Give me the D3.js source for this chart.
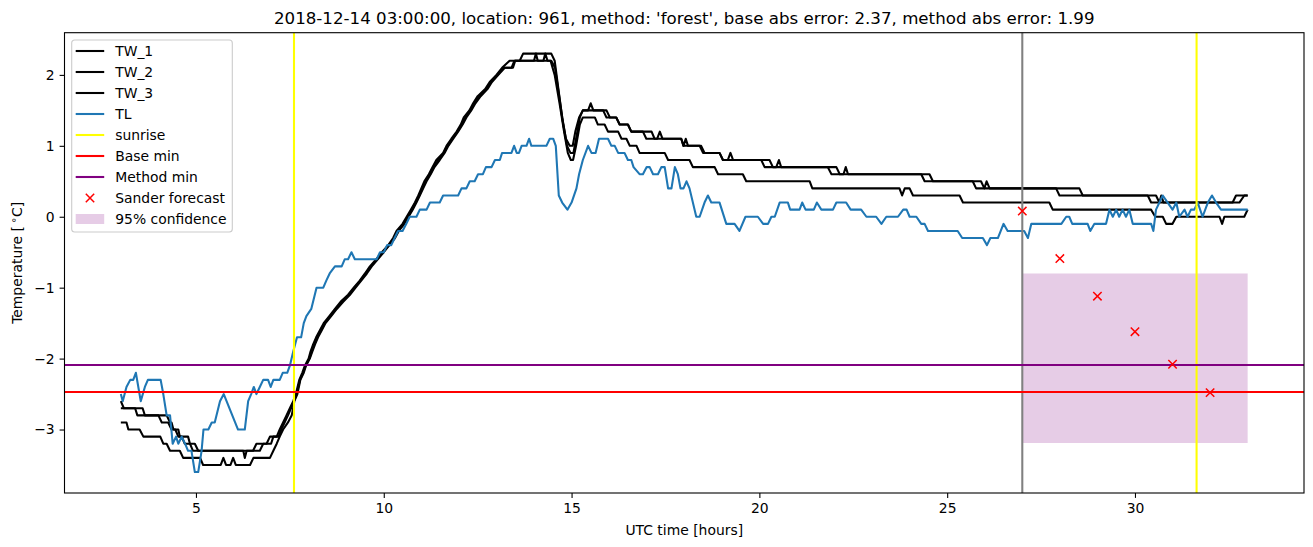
<!DOCTYPE html>
<html>
<head>
<meta charset="utf-8">
<script src="https://cdn.jsdelivr.net/npm/d3@7"></script>
<style>
  body { margin: 0; background: #fff; }
  svg { display: block; }
  text { font-family: "DejaVu Sans", sans-serif; }
</style>
</head>
<body>
<div class="chart"></div>
<script>
const FRAME_WIDTH = 1313;
const FRAME_HEIGHT = 547;
const MARGINS = {left: 64.5, right: 9, top: 32.7, bottom: 54};

const TITLE = "2018-12-14 03:00:00, location: 961, method: 'forest', base abs error: 2.37, method abs error: 1.99";

// [hour, temperature]
const TW_1 = [[3.0,-2.6],[3.08,-2.7],[3.38,-2.7],[3.44,-2.8],[4.0,-2.8],[4.09,-2.9],[4.26,-2.9],[4.35,-3.0],[4.45,-3.0],[4.53,-3.1],[4.62,-3.1],[4.7,-3.2],[4.84,-3.2],[4.92,-3.3],[6.26,-3.3],[6.3,-3.4],[6.35,-3.3],[6.52,-3.3],[6.61,-3.2],[6.88,-3.2],[6.97,-3.1],[7.15,-3.1],[7.23,-3.0],[7.32,-2.9],[7.41,-2.8],[7.5,-2.7],[7.59,-2.6],[7.66,-2.5],[7.75,-2.3],[7.83,-2.2],[7.9,-2.1],[8.0,-2.0],[8.05,-1.9],[8.12,-1.8],[8.2,-1.7],[8.3,-1.6],[8.4,-1.5],[8.55,-1.4],[8.7,-1.3],[8.85,-1.2],[9.05,-1.1],[9.2,-1.0],[9.36,-0.9],[9.5,-0.8],[9.63,-0.7],[9.8,-0.6],[9.95,-0.5],[10.12,-0.4],[10.25,-0.3],[10.34,-0.2],[10.5,-0.1],[10.61,0.0],[10.72,0.1],[10.83,0.2],[10.92,0.3],[11.0,0.4],[11.08,0.5],[11.2,0.6],[11.3,0.7],[11.4,0.8],[11.58,0.9],[11.67,1.0],[11.8,1.1],[11.94,1.2],[12.05,1.3],[12.13,1.4],[12.28,1.5],[12.38,1.6],[12.5,1.7],[12.7,1.8],[12.82,1.9],[13.0,2.0],[13.15,2.1],[13.35,2.2],[13.62,2.2],[13.71,2.3],[14.46,2.3],[14.55,2.2],[14.65,1.8],[14.75,1.4],[14.85,1.1],[14.95,1.0],[15.03,1.0],[15.1,1.2],[15.2,1.4],[15.3,1.5],[15.44,1.5],[15.51,1.6],[15.58,1.5],[15.84,1.5],[15.93,1.4],[16.19,1.4],[16.28,1.3],[16.5,1.3],[16.59,1.2],[16.9,1.2],[16.99,1.1],[17.28,1.1],[17.35,1.2],[17.42,1.1],[17.92,1.1],[17.98,1.0],[18.04,1.1],[18.1,1.0],[18.41,1.0],[18.5,0.9],[18.94,0.9],[19.03,0.8],[19.16,0.8],[19.23,0.9],[19.3,0.8],[20.05,0.8],[20.14,0.7],[20.45,0.7],[20.52,0.8],[20.58,0.7],[21.82,0.7],[21.92,0.6],[22.24,0.6],[22.3,0.7],[22.36,0.6],[24.31,0.6],[24.4,0.5],[25.68,0.5],[25.77,0.4],[25.99,0.4],[26.05,0.5],[26.13,0.4],[27.9,0.4],[27.99,0.3],[30.34,0.3],[30.43,0.2],[30.65,0.2],[30.7,0.3],[30.76,0.2],[32.6,0.2],[32.69,0.3],[33.0,0.3]];

const TW_2 = [[3.0,-2.7],[3.58,-2.7],[3.64,-2.8],[4.22,-2.8],[4.31,-2.9],[4.35,-2.9],[4.4,-3.0],[4.53,-3.0],[4.57,-3.1],[4.79,-3.1],[4.84,-3.2],[4.97,-3.2],[5.06,-3.3],[6.7,-3.3],[6.79,-3.2],[7.0,-3.2],[7.06,-3.1],[7.2,-3.1],[7.27,-3.0],[7.36,-2.9],[7.45,-2.8],[7.53,-2.7],[7.61,-2.6],[7.68,-2.5],[7.77,-2.3],[7.85,-2.2],[7.92,-2.1],[8.02,-2.0],[8.08,-1.9],[8.15,-1.8],[8.23,-1.7],[8.33,-1.6],[8.43,-1.5],[8.58,-1.4],[8.73,-1.3],[8.88,-1.2],[9.08,-1.1],[9.22,-1.0],[9.38,-0.9],[9.52,-0.8],[9.66,-0.7],[9.82,-0.6],[9.98,-0.5],[10.14,-0.4],[10.28,-0.3],[10.37,-0.2],[10.52,-0.1],[10.64,0.0],[10.75,0.1],[10.85,0.2],[10.94,0.3],[11.03,0.4],[11.11,0.5],[11.23,0.6],[11.33,0.7],[11.45,0.8],[11.6,0.9],[11.7,1.0],[11.83,1.1],[11.96,1.2],[12.08,1.3],[12.17,1.4],[12.3,1.5],[12.41,1.6],[12.55,1.7],[12.73,1.8],[12.86,1.9],[13.03,2.0],[13.2,2.1],[13.4,2.1],[13.48,2.2],[14.0,2.2],[14.05,2.3],[14.1,2.2],[14.25,2.2],[14.3,2.3],[14.36,2.2],[14.46,2.2],[14.56,2.1],[14.67,1.7],[14.78,1.3],[14.88,1.0],[14.97,0.9],[15.05,0.9],[15.12,1.1],[15.22,1.4],[15.3,1.5],[15.93,1.5],[16.02,1.4],[16.19,1.4],[16.28,1.3],[16.5,1.3],[16.59,1.2],[17.13,1.2],[17.21,1.1],[17.92,1.1],[17.98,1.0],[18.45,1.0],[18.54,0.9],[18.94,0.9],[19.03,0.8],[20.27,0.8],[20.36,0.7],[22.05,0.7],[22.14,0.6],[24.53,0.6],[24.62,0.5],[25.9,0.5],[25.99,0.4],[28.52,0.4],[28.61,0.3],[30.56,0.3],[30.65,0.2],[32.78,0.2],[32.91,0.3],[33.0,0.3]];

const TW_3 = [[3.0,-2.9],[3.15,-2.9],[3.2,-3.0],[3.5,-3.0],[3.6,-3.1],[4.05,-3.1],[4.13,-3.2],[4.22,-3.2],[4.31,-3.3],[4.57,-3.3],[4.66,-3.4],[5.11,-3.4],[5.19,-3.5],[5.66,-3.5],[5.73,-3.4],[5.8,-3.5],[5.92,-3.5],[5.99,-3.4],[6.06,-3.5],[6.44,-3.5],[6.53,-3.4],[6.97,-3.4],[7.06,-3.3],[7.15,-3.2],[7.23,-3.1],[7.32,-3.0],[7.45,-2.9],[7.55,-2.8],[7.62,-2.6],[7.7,-2.5],[7.78,-2.3],[7.87,-2.2],[7.93,-2.1],[8.03,-2.0],[8.1,-1.9],[8.17,-1.8],[8.25,-1.7],[8.35,-1.6],[8.45,-1.5],[8.6,-1.4],[8.75,-1.3],[8.92,-1.2],[9.1,-1.1],[9.25,-1.0],[9.4,-0.9],[9.55,-0.8],[9.68,-0.7],[9.84,-0.6],[10.0,-0.5],[10.15,-0.4],[10.3,-0.3],[10.4,-0.2],[10.55,-0.1],[10.66,0.0],[10.77,0.1],[10.87,0.2],[10.96,0.3],[11.05,0.4],[11.14,0.5],[11.25,0.6],[11.35,0.7],[11.49,0.8],[11.62,0.9],[11.72,1.0],[11.85,1.1],[11.98,1.2],[12.1,1.3],[12.2,1.4],[12.33,1.5],[12.44,1.6],[12.58,1.7],[12.76,1.8],[12.88,1.9],[13.05,2.0],[13.22,2.1],[13.44,2.1],[13.5,2.2],[14.44,2.2],[14.55,2.0],[14.68,1.6],[14.8,1.2],[14.9,0.9],[14.98,0.8],[15.04,0.8],[15.12,1.0],[15.22,1.3],[15.3,1.4],[15.62,1.4],[15.7,1.3],[15.88,1.3],[15.97,1.2],[16.24,1.2],[16.33,1.1],[16.46,1.1],[16.55,1.0],[16.73,1.0],[16.81,0.9],[17.48,0.9],[17.57,0.8],[18.14,0.8],[18.23,0.7],[18.81,0.7],[18.9,0.6],[19.56,0.6],[19.65,0.5],[21.34,0.5],[21.41,0.4],[23.73,0.4],[23.8,0.3],[23.87,0.4],[24.0,0.4],[24.09,0.3],[25.33,0.3],[25.42,0.2],[27.72,0.2],[27.81,0.1],[30.43,0.1],[30.54,0.0],[30.74,0.0],[30.83,-0.1],[31.0,-0.1],[31.1,0.0],[32.25,0.0],[32.32,-0.1],[32.38,0.0],[32.91,0.0],[33.0,0.1]];

const TL = [[3.0,-2.5],[3.05,-2.6],[3.15,-2.4],[3.25,-2.3],[3.33,-2.3],[3.4,-2.2],[3.53,-2.6],[3.64,-2.4],[3.72,-2.3],[4.06,-2.3],[4.13,-2.5],[4.22,-2.8],[4.31,-2.8],[4.38,-3.2],[4.47,-3.1],[4.53,-3.2],[4.62,-3.1],[4.71,-3.2],[4.79,-3.3],[4.88,-3.3],[4.97,-3.6],[5.06,-3.6],[5.15,-3.3],[5.2,-3.0],[5.33,-3.0],[5.42,-2.9],[5.5,-2.9],[5.64,-2.6],[5.74,-2.5],[6.12,-3.0],[6.3,-3.0],[6.39,-2.6],[6.47,-2.5],[6.54,-2.4],[6.61,-2.5],[6.7,-2.4],[6.79,-2.3],[6.92,-2.3],[6.99,-2.4],[7.06,-2.3],[7.23,-2.3],[7.31,-2.2],[7.43,-2.2],[7.5,-2.1],[7.59,-1.9],[7.69,-1.7],[7.8,-1.7],[7.87,-1.5],[7.94,-1.4],[8.07,-1.3],[8.21,-1.0],[8.39,-1.0],[8.47,-0.9],[8.56,-0.8],[8.7,-0.7],[8.88,-0.7],[8.96,-0.6],[9.05,-0.6],[9.14,-0.5],[9.23,-0.6],[9.81,-0.6],[9.9,-0.5],[10.0,-0.5],[10.09,-0.4],[10.2,-0.4],[10.29,-0.3],[10.38,-0.2],[10.5,-0.2],[10.6,-0.1],[10.69,0.0],[10.87,0.0],[10.96,0.1],[11.14,0.1],[11.23,0.2],[11.49,0.2],[11.58,0.3],[11.98,0.3],[12.07,0.4],[12.2,0.4],[12.29,0.5],[12.42,0.5],[12.51,0.6],[12.64,0.6],[12.72,0.7],[12.87,0.7],[12.96,0.8],[13.09,0.8],[13.15,0.9],[13.4,0.9],[13.47,1.0],[13.54,0.9],[13.6,0.9],[13.67,1.0],[13.8,1.0],[13.87,1.1],[13.93,1.0],[14.33,1.0],[14.42,1.1],[14.51,1.1],[14.58,1.0],[14.66,0.3],[14.75,0.2],[14.89,0.1],[15.0,0.2],[15.13,0.4],[15.2,0.6],[15.3,0.8],[15.44,1.0],[15.53,0.9],[15.64,0.9],[15.73,1.1],[15.97,1.1],[16.06,1.0],[16.15,1.0],[16.24,0.9],[16.41,0.9],[16.5,0.8],[16.59,0.8],[16.65,0.7],[16.81,0.6],[16.9,0.6],[17.0,0.7],[17.08,0.7],[17.17,0.6],[17.3,0.6],[17.39,0.7],[17.48,0.7],[17.57,0.4],[17.66,0.4],[17.75,0.7],[17.83,0.6],[17.9,0.4],[17.98,0.4],[18.06,0.5],[18.14,0.4],[18.32,0.0],[18.41,0.0],[18.54,0.2],[18.63,0.3],[18.72,0.2],[18.94,0.2],[19.12,-0.1],[19.34,-0.1],[19.47,-0.2],[19.63,0.0],[19.96,0.0],[20.1,-0.1],[20.23,-0.1],[20.32,0.0],[20.41,0.0],[20.54,0.2],[20.76,0.2],[20.82,0.1],[21.07,0.1],[21.14,0.2],[21.23,0.1],[21.45,0.1],[21.53,0.2],[21.65,0.1],[21.96,0.1],[22.05,0.2],[22.31,0.2],[22.43,0.1],[22.71,0.1],[22.85,0.0],[23.11,0.0],[23.25,-0.1],[23.38,0.0],[23.69,0.0],[23.83,0.1],[23.92,0.1],[24.0,0.0],[24.18,0.0],[24.31,-0.1],[24.4,-0.1],[24.49,-0.2],[25.28,-0.2],[25.4,-0.3],[25.95,-0.3],[26.06,-0.4],[26.15,-0.3],[26.35,-0.3],[26.5,-0.1],[26.61,-0.2],[27.05,-0.2],[27.15,-0.3],[27.24,-0.1],[28.04,-0.1],[28.17,0.0],[28.25,0.0],[28.33,-0.1],[28.74,-0.1],[28.81,-0.2],[28.92,-0.1],[29.23,-0.1],[29.32,0.1],[29.41,0.0],[29.5,0.1],[29.58,0.0],[29.67,0.1],[29.76,0.0],[29.85,0.1],[29.94,-0.1],[30.43,-0.1],[30.49,-0.2],[30.56,0.1],[30.74,0.3],[30.87,0.2],[31.0,0.1],[31.1,0.2],[31.18,0.0],[31.32,0.1],[31.4,0.0],[31.49,0.1],[31.58,0.1],[31.67,0.2],[31.8,0.0],[31.94,0.2],[32.05,0.3],[32.16,0.2],[32.29,0.1],[33.0,0.1]];

const SUNRISE_HOURS = [7.61, 31.64];
const FORECAST_START = 27;
const BASE_MIN = -2.47;
const METHOD_MIN = -2.09;
const FORECAST_HOURS = [27, 28, 29, 30, 31, 32];
const FORECAST_VALUES = [0.08, -0.59, -1.12, -1.62, -2.08, -2.48];
const CONF_HOURS = [27, 33];
const CONF_RANGE = [-3.19, -0.80];

const X_TICKS = [5, 10, 15, 20, 25, 30];
const Y_TICKS = [-3, -2, -1, 0, 1, 2];

const SVG = d3.select(".chart")
  .append("svg")
  .attr("width", FRAME_WIDTH)
  .attr("height", FRAME_HEIGHT);

const PLOT_LEFT = MARGINS.left;
const PLOT_RIGHT = FRAME_WIDTH - MARGINS.right;
const PLOT_TOP = MARGINS.top;
const PLOT_BOTTOM = FRAME_HEIGHT - MARGINS.bottom;

const X_SCALE = d3.scaleLinear().domain([1.5, 34.5]).range([PLOT_LEFT, PLOT_RIGHT]);
const Y_SCALE = d3.scaleLinear().domain([-3.895, 2.595]).range([PLOT_BOTTOM, PLOT_TOP]);

const LW = 2.08;
const line = d3.line().x(d => X_SCALE(d[0])).y(d => Y_SCALE(d[1]));

const PLOT = SVG.append("g");

// confidence band (drawn under the lines)
PLOT.append("rect")
  .attr("x", X_SCALE(CONF_HOURS[0]))
  .attr("y", Y_SCALE(CONF_RANGE[1]))
  .attr("width", X_SCALE(CONF_HOURS[1]) - X_SCALE(CONF_HOURS[0]))
  .attr("height", Y_SCALE(CONF_RANGE[0]) - Y_SCALE(CONF_RANGE[1]))
  .attr("fill", "purple")
  .attr("fill-opacity", 0.2);

[TW_1, TW_2, TW_3].forEach(series => {
  PLOT.append("path")
    .attr("d", line(series))
    .attr("fill", "none")
    .attr("stroke", "black")
    .attr("stroke-width", LW)
    .attr("stroke-linejoin", "round");
});

PLOT.append("path")
  .attr("d", line(TL))
  .attr("fill", "none")
  .attr("stroke", "#1f77b4")
  .attr("stroke-width", LW)
  .attr("stroke-linejoin", "round");

PLOT.append("line")
  .attr("x1", X_SCALE(FORECAST_START)).attr("x2", X_SCALE(FORECAST_START))
  .attr("y1", PLOT_TOP).attr("y2", PLOT_BOTTOM)
  .attr("stroke", "grey").attr("stroke-width", LW);

PLOT.selectAll(".sunrise")
  .data(SUNRISE_HOURS)
  .enter()
  .append("line")
    .attr("class", "sunrise")
    .attr("x1", d => X_SCALE(d)).attr("x2", d => X_SCALE(d))
    .attr("y1", PLOT_TOP).attr("y2", PLOT_BOTTOM)
    .attr("stroke", "yellow").attr("stroke-width", LW);

[[BASE_MIN, "red"], [METHOD_MIN, "purple"]].forEach(([v, c]) => {
  PLOT.append("line")
    .attr("x1", PLOT_LEFT).attr("x2", PLOT_RIGHT)
    .attr("y1", Y_SCALE(v)).attr("y2", Y_SCALE(v))
    .attr("stroke", c).attr("stroke-width", LW);
});

function cross(g, cx, cy, r) {
  g.append("path")
    .attr("d", `M${cx - r},${cy - r}L${cx + r},${cy + r}M${cx - r},${cy + r}L${cx + r},${cy - r}`)
    .attr("stroke", "red")
    .attr("stroke-width", 1.5)
    .attr("fill", "none");
}

FORECAST_HOURS.forEach((h, i) => cross(PLOT, X_SCALE(h), Y_SCALE(FORECAST_VALUES[i]), 4.2));

// axes
const xAxis = SVG.append("g")
  .attr("transform", "translate(0," + PLOT_BOTTOM + ")")
  .call(d3.axisBottom(X_SCALE).tickValues(X_TICKS).tickFormat(d3.format("d")).tickSize(4.9).tickPadding(5));
const yAxis = SVG.append("g")
  .attr("transform", "translate(" + PLOT_LEFT + ",0)")
  .call(d3.axisLeft(Y_SCALE).tickValues(Y_TICKS).tickFormat(d3.format("d")).tickSize(4.9).tickPadding(4.9));

[xAxis, yAxis].forEach(ax => {
  ax.select(".domain").remove();
  ax.selectAll(".tick line").attr("stroke", "black").attr("stroke-width", 1.1);
  ax.selectAll(".tick text")
    .attr("fill", "black")
    .attr("font-size", "13.9px")
    .attr("font-family", "DejaVu Sans");
});

SVG.append("rect")
  .attr("x", PLOT_LEFT).attr("y", PLOT_TOP)
  .attr("width", PLOT_RIGHT - PLOT_LEFT)
  .attr("height", PLOT_BOTTOM - PLOT_TOP)
  .attr("fill", "none")
  .attr("stroke", "black")
  .attr("stroke-width", 1.1);

SVG.append("text")
  .attr("x", (PLOT_LEFT + PLOT_RIGHT) / 2)
  .attr("y", 24.2)
  .attr("text-anchor", "middle")
  .attr("font-size", "16.67px")
  .text(TITLE);

SVG.append("text")
  .attr("x", (PLOT_LEFT + PLOT_RIGHT) / 2)
  .attr("y", 535)
  .attr("text-anchor", "middle")
  .attr("font-size", "13.9px")
  .text("UTC time [hours]");

const yLabel = SVG.append("text")
  .attr("transform", "translate(22," + ((PLOT_TOP + PLOT_BOTTOM) / 2) + ") rotate(-90)")
  .attr("text-anchor", "middle")
  .attr("font-size", "13.9px");
yLabel.append("tspan").text("Temperature [\u2009");
yLabel.append("tspan").attr("dy", -5).attr("font-size", "10px").text("\u2218");
yLabel.append("tspan").attr("dy", 5).text("C]");

// legend
const LEGEND_ITEMS = [
  {label: "TW_1", type: "line", color: "black"},
  {label: "TW_2", type: "line", color: "black"},
  {label: "TW_3", type: "line", color: "black"},
  {label: "TL", type: "line", color: "#1f77b4"},
  {label: "sunrise", type: "line", color: "yellow"},
  {label: "Base min", type: "line", color: "red"},
  {label: "Method min", type: "line", color: "purple"},
  {label: "Sander forecast", type: "marker", color: "red"},
  {label: "95% confidence", type: "patch", color: "purple"}
];

const LEGEND = SVG.append("g").attr("transform", "translate(71.7,40)");
LEGEND.append("rect")
  .attr("width", 160.6).attr("height", 192)
  .attr("rx", 3).attr("ry", 3)
  .attr("fill", "white").attr("fill-opacity", 0.8)
  .attr("stroke", "#cccccc").attr("stroke-width", 1.1);

LEGEND_ITEMS.forEach((item, i) => {
  const cy = 11 + i * 21;
  if (item.type === "line") {
    LEGEND.append("line")
      .attr("x1", 4).attr("x2", 32.5)
      .attr("y1", cy).attr("y2", cy)
      .attr("stroke", item.color).attr("stroke-width", LW);
  } else if (item.type === "marker") {
    cross(LEGEND, 18.3, cy, 4.2);
  } else {
    LEGEND.append("rect")
      .attr("x", 4).attr("y", cy - 5)
      .attr("width", 28.5).attr("height", 10)
      .attr("fill", item.color).attr("fill-opacity", 0.2);
  }
  LEGEND.append("text")
    .attr("x", 43.5).attr("y", cy)
    .attr("dy", "0.36em")
    .attr("font-size", "13.9px")
    .text(item.label);
});
</script>
</body>
</html>
